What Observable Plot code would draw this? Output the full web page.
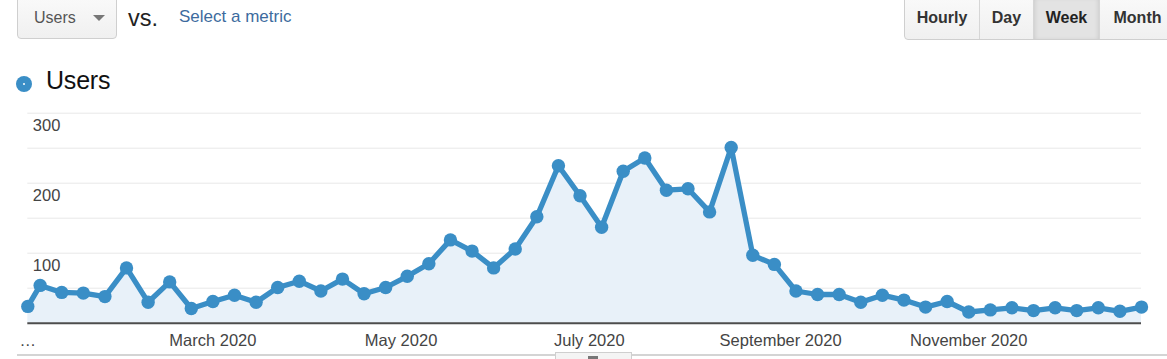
<!DOCTYPE html>
<html>
<head>
<meta charset="utf-8">
<script src="https://cdn.jsdelivr.net/npm/d3@7"></script>
<script src="https://cdn.jsdelivr.net/npm/@observablehq/plot@0.6"></script>
<style>
  html, body { margin: 0; padding: 0; background: #fff; }
  body { width: 1167px; height: 359px; position: relative; overflow: hidden; font-family: "Liberation Sans", Arial, sans-serif; }
  .abs { position: absolute; }
  #metricBtn { left: 17px; top: -6px; width: 100px; height: 45px; border: 1px solid #cfcfcf; border-radius: 0 0 4px 4px; background: linear-gradient(#fafafa, #f0f0f0); box-sizing: border-box; }
  #metricBtn .lbl { position: absolute; left: 16px; top: 14px; font-size: 16px; color: #555; }
  #metricBtn .arr { position: absolute; left: 75px; top: 20px; width: 0; height: 0; border-left: 6px solid transparent; border-right: 6px solid transparent; border-top: 6px solid #777; }
  #vs { left: 128px; top: 5px; font-size: 23.5px; color: #222; }
  #sel { left: 179px; top: 7px; font-size: 17px; color: #3d6b9e; }
  #period { left: 904px; top: -6px; height: 46px; display: flex; border: 1px solid #cfcfcf; border-radius: 0 0 0 4px; box-sizing: border-box; background: linear-gradient(#fafafa, #f0f0f0); }
  #period div { box-sizing: border-box; height: 100%; font-weight: bold; font-size: 16px; color: #333; padding-top: 14px; text-align: center; border-right: 1px solid #d6d6d6; }
  #period .on { background: #e3e3e3; box-shadow: inset 0 2px 5px rgba(0,0,0,0.15); color: #222; }
  #legendDot { left: 16px; top: 76px; width: 16px; height: 16px; border-radius: 50%; background: #3a8ec6; }
  #legendDot::after { content: ""; position: absolute; left: 7px; top: 7px; width: 2px; height: 2px; background: #fff; border-radius: 50%; }
  #title { left: 46px; top: 66px; font-size: 25px; color: #111; letter-spacing: -0.2px; }
  #chart { left: 0; top: 100px; }
  #bottomLine { left: 17px; top: 354px; width: 1150px; height: 2px; background: #d4d4d4; }
  #handle { left: 555px; top: 352px; width: 77px; height: 12px; border: 1px solid #cfcfcf; background: #f4f4f4; box-sizing: border-box; }
  #handle::after { content: ""; position: absolute; left: 32px; top: 3px; width: 10px; height: 4px; background: #777; }
</style>
</head>
<body>
<div id="metricBtn" class="abs"><span class="lbl">Users</span><span class="arr"></span></div>
<div id="vs" class="abs">vs.</div>
<div id="sel" class="abs">Select a metric</div>
<div id="period" class="abs">
  <div style="width:75px">Hourly</div>
  <div style="width:54px">Day</div>
  <div class="on" style="width:66px">Week</div>
  <div style="width:75px;border-right:none">Month</div>
</div>
<div id="legendDot" class="abs"></div>
<div id="title" class="abs">Users</div>
<div id="bottomLine" class="abs"></div>
<div id="chart" class="abs"></div>
<div id="handle" class="abs"></div>
<script>
const weeks = [
  "2020-01-01","2020-01-05","2020-01-12","2020-01-19","2020-01-26",
  "2020-02-02","2020-02-09","2020-02-16","2020-02-23",
  "2020-03-01","2020-03-08","2020-03-15","2020-03-22","2020-03-29",
  "2020-04-05","2020-04-12","2020-04-19","2020-04-26",
  "2020-05-03","2020-05-10","2020-05-17","2020-05-24","2020-05-31",
  "2020-06-07","2020-06-14","2020-06-21","2020-06-28",
  "2020-07-05","2020-07-12","2020-07-19","2020-07-26",
  "2020-08-02","2020-08-09","2020-08-16","2020-08-23","2020-08-30",
  "2020-09-06","2020-09-13","2020-09-20","2020-09-27",
  "2020-10-04","2020-10-11","2020-10-18","2020-10-25",
  "2020-11-01","2020-11-08","2020-11-15","2020-11-22","2020-11-29",
  "2020-12-06","2020-12-13","2020-12-20","2020-12-27"
];
const users = [
  24, 54, 44, 43, 38,
  79, 30, 59, 21,
  31, 40, 30, 51, 60,
  46, 63, 42, 51,
  67, 85, 119, 103, 79,
  106, 152, 225, 182,
  137, 217, 236, 190,
  192, 159, 251, 97, 84,
  46, 41, 41, 30,
  40, 33, 23, 31,
  16, 19, 22, 18, 22,
  18, 22, 17, 23
];
const xTickDates = ["2020-01-01","2020-03-01","2020-05-01","2020-07-01","2020-09-01","2020-11-01"];
const xTickLabels = ["\u2026","March 2020","May 2020","July 2020","September 2020","November 2020"];
const yGrid = [50, 100, 150, 200, 250, 300];
const yLabels = [100, 200, 300];

const data = weeks.map((w, i) => ({date: new Date(w + "T00:00:00Z"), value: users[i]}));
const tickDates = xTickDates.map(d => new Date(d + "T00:00:00Z"));
const labelOf = new Map(tickDates.map((d, i) => [+d, xTickLabels[i]]));

const color = "#3a8ec6";
const chart = Plot.plot({
  width: 1167,
  height: 259,
  marginLeft: 27.3,
  marginRight: 26,
  marginTop: 12.7,
  marginBottom: 36.3,
  style: {fontFamily: "'Liberation Sans', Arial, sans-serif", fontSize: "16.5px", color: "#444", background: "transparent", overflow: "visible"},
  x: {type: "utc", domain: [new Date("2020-01-01T00:00:00Z"), new Date("2020-12-27T00:00:00Z")]},
  y: {domain: [0, 300]},
  marks: [
    Plot.gridY(yGrid, {stroke: "#e8e8e8", strokeOpacity: 1}),
    Plot.areaY(data, {x: "date", y: "value", fill: "#e8f1f9"}),
    Plot.ruleY([0], {stroke: "#4d4d4d", strokeWidth: 2}),
    Plot.lineY(data, {x: "date", y: "value", stroke: color, strokeWidth: 5.3}),
    Plot.dot(data, {x: "date", y: "value", r: 6.7, fill: color}),
    Plot.axisX(tickDates, {tickSize: 0, tickPadding: 11, tickFormat: d => labelOf.get(+d), fill: "#444"}),
    Plot.axisY({ticks: [], label: null}),
    Plot.text(yLabels, {y: d => d, text: d => String(d), frameAnchor: "left", dx: 5, dy: 6.5, textAnchor: "start", lineAnchor: "top", fill: "#444"})
  ]
});
document.getElementById("chart").appendChild(chart);
</script>
</body>
</html>
